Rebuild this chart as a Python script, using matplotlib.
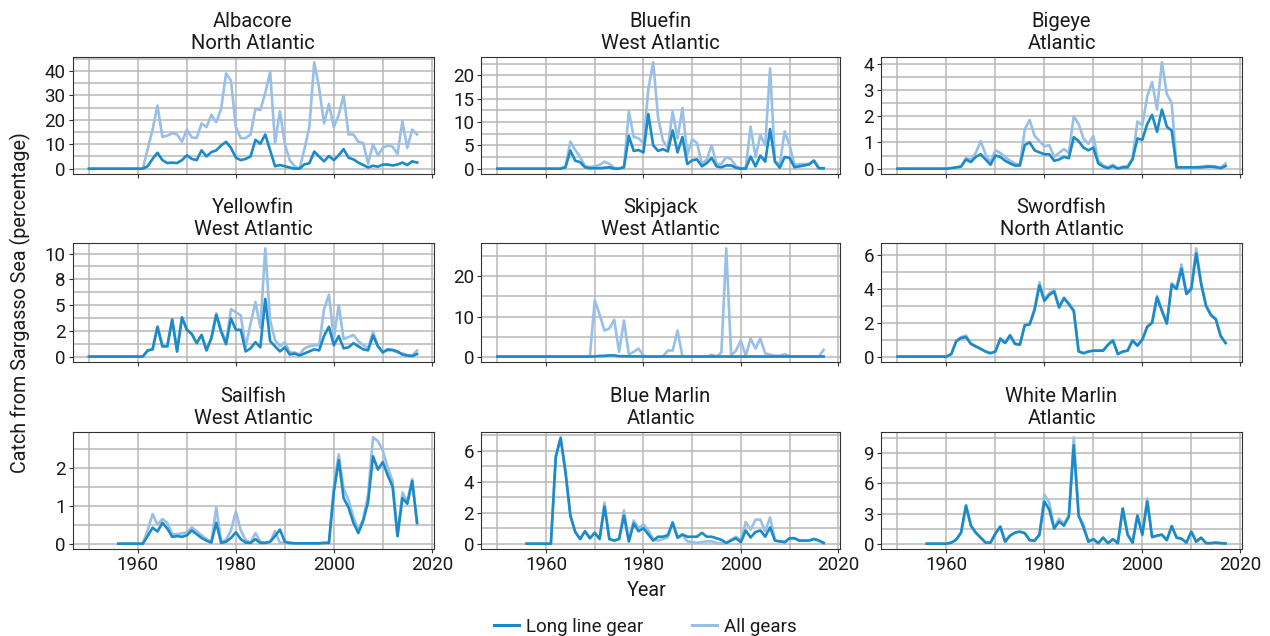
import matplotlib
matplotlib.use("Agg")
import matplotlib.pyplot as plt
import numpy as np
from matplotlib.ticker import MultipleLocator, FormatStrFormatter
from matplotlib.lines import Line2D

plt.rcParams['font.family'] = ['Roboto', 'DejaVu Sans']

# ---------------- data ----------------
years_a = list(range(1950, 2018))   # 68 years
years_b = list(range(1956, 2018))   # 62 years

titles = ["Albacore\nNorth Atlantic", "Bluefin\nWest Atlantic", "Bigeye\nAtlantic",
          "Yellowfin\nWest Atlantic", "Skipjack\nWest Atlantic", "Swordfish\nNorth Atlantic",
          "Sailfish\nWest Atlantic", "Blue Marlin\nAtlantic", "White Marlin\nAtlantic"]

albacore_long = [0, 0, 0, 0, 0, 0, 0, 0, 0, 0, 0, 0,
                 1, 4, 6.5, 3.5, 2.3, 2.5, 2.3, 3.5, 5.5, 4,
                 3.5, 7.5, 5, 6.8, 7.5, 9.5, 11, 8.5, 4.5, 3.5,
                 4, 5, 11.8, 10.2, 14, 7.5, 1, 1.5, 1, 0.5,
                 0, 0, 1.8, 2.2, 7, 5, 3, 5.2, 3.5, 5.5,
                 8, 4.5, 3.8, 2.5, 1.5, 0.5, 1.2, 0.8, 1.7, 1.7,
                 1.3, 1.7, 2.5, 1.5, 3, 2.5]
albacore_all = [0, 0, 0, 0, 0, 0, 0, 0, 0, 0, 0, 0,
                8, 16, 25.8, 13, 13.5, 14.5, 14, 11, 16, 12.8,
                12.5, 18.5, 17, 22, 19, 24.5, 39, 36, 17, 12.5,
                12.5, 14, 24.5, 24, 31, 39.5, 10.5, 23.5, 10, 3.5,
                1, 0, 8, 17, 43.5, 33, 18.5, 26.5, 17, 22,
                30, 14, 14, 11, 10.5, 2, 10, 5.5, 8.5, 9.5,
                9, 6, 19.5, 8.5, 16, 14]

bluefin_long = [0, 0, 0, 0, 0, 0, 0, 0, 0, 0, 0, 0, 0, 0,
                0.3, 3.9, 1.7, 1.4, 0.3, 0.1, 0.1, 0.1, 0.2, 0.3,
                0, 0, 0.3, 7, 3.8, 4, 3.5, 11.7, 5, 3.8,
                4.2, 3.7, 8.2, 3.5, 6.8, 1, 1.8, 2, 0.5, 1.2,
                2.3, 0.5, 0.3, 0.7, 0.7, 0.2, 0, 0, 2.6, 0.5,
                2.8, 1.5, 8.5, 1.5, 0.2, 2.5, 2.3, 0.3, 0.5, 0.7,
                0.9, 1.7, 0.1, 0.1]
bluefin_all = [0, 0, 0, 0, 0, 0, 0, 0, 0, 0, 0, 0, 0, 0,
               0.5, 5.8, 4, 2.5, 0.5, 0.4, 0.5, 0.8, 1.5, 1.0,
               0.2, 0, 0.5, 12.3, 6.8, 6.5, 5.5, 17, 22.8, 11,
               6, 4.5, 12.2, 6.5, 13, 3, 6.3, 5.5, 1, 2,
               5, 1, 1, 2.5, 2, 0.5, 0, 0.2, 9, 2.5,
               7.2, 5, 21.5, 1.5, 1, 8, 5, 0.8, 1, 1,
               1.0, 1.8, 0, 0]

bigeye_long = [0, 0, 0, 0, 0, 0, 0, 0, 0, 0, 0,
               0.02, 0.05, 0.08, 0.35, 0.25, 0.45, 0.55, 0.35, 0.15, 0.5,
               0.45, 0.3, 0.2, 0.12, 0.12, 0.9, 1.0, 0.7, 0.62, 0.55,
               0.55, 0.3, 0.35, 0.45, 0.4, 1.2, 1.05, 0.8, 0.7, 0.8,
               0.2, 0.08, 0.02, 0.1, 0.0, 0.05, 0.05, 0.35, 1.15, 1.1,
               1.7, 2.05, 1.4, 2.25, 1.6, 1.45, 0.05, 0.05, 0.05, 0.05,
               0.05, 0.05, 0.07, 0.08, 0.06, 0.02, 0.1]
bigeye_all = [0, 0, 0, 0, 0, 0, 0, 0, 0, 0, 0,
              0.02, 0.05, 0.08, 0.4, 0.35, 0.6, 1.05, 0.55, 0.25, 0.7,
              0.6, 0.45, 0.3, 0.2, 0.15, 1.5, 1.85, 1.25, 1.05, 0.85,
              0.9, 0.45, 0.6, 0.75, 0.6, 2.0, 1.7, 1.15, 0.95, 1.25,
              0.3, 0.12, 0.05, 0.15, 0.0, 0.08, 0.1, 0.4, 1.8, 1.65,
              2.75, 3.3, 2.25, 4.05, 2.85, 2.5, 0.05, 0.05, 0.05, 0.05,
              0.06, 0.08, 0.1, 0.1, 0.08, 0.03, 0.2]

yellowfin_long = [0, 0, 0, 0, 0, 0, 0, 0, 0, 0, 0, 0,
                  0.6, 0.7, 2.9, 1.0, 1.0, 3.6, 0.5, 3.8, 2.6, 2.2,
                  1.3, 2.1, 0.6, 1.8, 4.05, 2.4, 1.2, 3.7, 2.6, 2.6,
                  0.5, 0.8, 1.4, 0.9, 5.6, 1.5, 1.0, 0.5, 0.9, 0.2,
                  0.3, 0.1, 0.3, 0.5, 0.7, 0.6, 2.0, 2.9, 1.1, 2.0,
                  0.8, 0.9, 1.3, 1.0, 0.7, 0.6, 2.05, 1.0, 0.4, 0.7,
                  0.65, 0.5, 0.2, 0.1, 0.05, 0.25]
yellowfin_all = [0, 0, 0, 0, 0, 0, 0, 0, 0, 0, 0, 0,
                 0.6, 0.7, 2.9, 1.0, 1.0, 3.6, 0.5, 3.8, 2.6, 2.2,
                 1.3, 2.1, 0.6, 1.8, 4.2, 2.6, 1.4, 4.6, 4.3, 4.0,
                 0.9, 3.2, 5.3, 2.8, 10.5, 3.5, 1.6, 1.0, 1.4, 0.4,
                 0.4, 0.2, 0.8, 1.0, 1.1, 1.1, 4.6, 6.0, 1.8, 5.0,
                 1.7, 1.9, 2.1, 1.5, 1.1, 0.8, 2.4, 1.0, 0.5, 0.6,
                 0.6, 0.4, 0.3, 0.15, 0.1, 0.6]

skipjack_long = [0, 0, 0, 0, 0, 0, 0, 0, 0, 0, 0, 0, 0, 0, 0, 0, 0, 0, 0, 0,
                 0.05, 0.15, 0.2, 0.3, 0.3, 0.1, 0.1, 0.05, 0.05, 0.05,
                 0.03, 0.02, 0.02, 0.02, 0.02, 0.03, 0.03, 0.03, 0.02, 0.02,
                 0.02, 0.02, 0.02, 0.02, 0.02, 0.02, 0.03, 0.03, 0.02, 0.02,
                 0.03, 0.02, 0.03, 0.02, 0.03, 0.02, 0.02, 0.02, 0.02, 0.02,
                 0.02, 0.02, 0.02, 0.02, 0.02, 0.02, 0.02, 0.05]
skipjack_all = [0, 0, 0, 0, 0, 0, 0, 0, 0, 0, 0, 0, 0, 0, 0, 0, 0, 0, 0, 0,
                14, 10.5, 6.5, 7, 9.2, 1.2, 9, 0.5, 1.2, 2,
                0.2, 0, 0, 0, 0, 1.5, 1.5, 6.5, 0, 0,
                0, 0, 0, 0, 0.5, 0, 1.0, 27, 0.3, 1.5,
                4, 0.2, 4.5, 2.0, 4.5, 0.8, 0.5, 0.2, 0.2, 0.6,
                0.1, 0, 0, 0, 0, 0, 0, 1.7]

swordfish_long = [0, 0, 0, 0, 0, 0, 0, 0, 0, 0, 0,
                  0.15, 0.9, 1.1, 1.15, 0.75, 0.6, 0.45, 0.3, 0.2, 0.3,
                  1.05, 0.8, 1.25, 0.75, 0.7, 1.85, 1.9, 2.75, 4.2, 3.3,
                  3.65, 3.85, 2.9, 3.45, 3.1, 2.7, 0.3, 0.2, 0.3, 0.35,
                  0.35, 0.35, 0.7, 0.95, 0.15, 0.3, 0.35, 0.95, 0.65, 1.0,
                  1.75, 2.0, 3.5, 2.7, 1.95, 4.25, 4.0, 5.2, 3.7, 4.0,
                  6.1, 4.3, 3.0, 2.45, 2.2, 1.2, 0.8]
swordfish_all = [0, 0, 0, 0, 0, 0, 0, 0, 0, 0, 0,
                 0.15, 0.95, 1.15, 1.25, 0.78, 0.62, 0.47, 0.3, 0.2, 0.3,
                 1.08, 0.82, 1.28, 0.77, 0.72, 1.9, 1.95, 2.85, 4.4, 3.4,
                 3.75, 3.95, 2.95, 3.5, 3.15, 2.75, 0.32, 0.2, 0.3, 0.36,
                 0.36, 0.36, 0.72, 0.98, 0.15, 0.3, 0.36, 0.97, 0.66, 1.02,
                 1.8, 2.05, 3.6, 2.75, 2.0, 4.35, 4.1, 5.45, 3.8, 4.1,
                 6.4, 4.4, 3.05, 2.5, 2.25, 1.25, 0.82]

sailfish_long = [0, 0, 0, 0, 0, 0,
                 0.2, 0.42, 0.32, 0.55, 0.4, 0.18, 0.2, 0.18, 0.22, 0.35,
                 0.25, 0.15, 0.08, 0.03, 0.55, 0.02, 0.05, 0.15, 0.3, 0.12,
                 0.03, 0.02, 0.12, 0.02, 0.02, 0.05, 0.2, 0.37, 0.05, 0.02,
                 0.01, 0.01, 0.01, 0.01, 0.01, 0.01, 0.02, 0.02, 1.35, 2.2,
                 1.2, 0.95, 0.55, 0.28, 0.6, 1.1, 2.3, 1.95, 2.15, 1.8,
                 1.5, 0.2, 1.2, 1.05, 1.65, 0.55]
sailfish_all = [0, 0, 0, 0, 0, 0,
                0.35, 0.78, 0.5, 0.65, 0.55, 0.25, 0.25, 0.27, 0.3, 0.43,
                0.33, 0.22, 0.12, 0.05, 0.95, 0.05, 0.1, 0.35, 0.85, 0.35,
                0.1, 0.02, 0.28, 0.05, 0.02, 0.05, 0.33, 0.02, 0.03, 0.02,
                0.01, 0.01, 0.01, 0.01, 0.01, 0.01, 0.02, 0.02, 1.5, 2.35,
                1.45, 1.15, 0.7, 0.35, 0.65, 1.3, 2.8, 2.7, 2.45, 2.0,
                1.65, 0.2, 1.35, 1.1, 1.7, 0.5]

bluemarlin_long = [0, 0, 0, 0, 0, 0,
                   5.6, 6.8, 4.6, 1.8, 0.75, 0.3, 0.8, 0.35, 0.7, 0.3,
                   2.4, 0.3, 0.2, 0.3, 1.8, 0.15, 1.3, 0.8, 1.0, 0.6,
                   0.2, 0.45, 0.45, 0.55, 1.35, 0.4, 0.6, 0.45, 0.45, 0.45,
                   0.7, 0.45, 0.45, 0.35, 0.25, 0.05, 0.2, 0.35, 0.1, 0.85,
                   0.4, 0.75, 0.85, 0.45, 1.05, 0.2, 0.15, 0.1, 0.35, 0.35,
                   0.2, 0.2, 0.2, 0.3, 0.2, 0.05]
bluemarlin_all = [0, 0, 0, 0, 0, 0,
                  5.6, 6.85, 4.6, 1.8, 0.75, 0.3, 0.8, 0.35, 0.7, 0.3,
                  2.65, 0.3, 0.2, 0.3, 2.15, 0.15, 1.5, 1.0, 1.25, 0.85,
                  0.3, 0.2, 0.3, 0.4, 1.4, 0.35, 0.55, 0.15, 0.1, 0.05,
                  0.1, 0.15, 0.15, 0.05, 0.0, 0.05, 0.25, 0.45, 0.15, 1.4,
                  0.9, 1.55, 1.55, 0.8, 1.7, 0.2, 0.15, 0.1, 0.35, 0.35,
                  0.2, 0.2, 0.2, 0.3, 0.2, 0.05]

whitemarlin_long = [0, 0, 0, 0, 0,
                    0.1, 0.4, 1.1, 3.8, 1.8, 1.1, 0.6, 0.1, 0.1, 1.0,
                    1.7, 0.2, 0.8, 1.1, 1.2, 1.05, 0.35, 0.3, 0.9, 4.2,
                    3.4, 1.5, 2.2, 1.8, 2.7, 9.8, 2.8, 1.6, 0.2, 0.45,
                    0.05, 0.6, 0.05, 0.45, 0.05, 3.5, 0.9, 0.1, 2.8, 0.9,
                    4.2, 0.65, 0.8, 0.9, 0.35, 1.75, 0.6, 0.5, 0.1, 1.2,
                    0.2, 0.6, 0.05, 0.05, 0.1, 0.05, 0.02]
whitemarlin_all = [0, 0, 0, 0, 0,
                   0.1, 0.4, 1.1, 3.8, 1.8, 1.1, 0.6, 0.1, 0.1, 1.0,
                   1.7, 0.2, 0.8, 1.1, 1.2, 1.05, 0.35, 0.3, 0.9, 4.9,
                   4.1, 1.6, 2.5, 2.0, 2.8, 10.6, 2.8, 1.9, 0.2, 0.45,
                   0.05, 0.6, 0.05, 0.45, 0.05, 3.5, 0.9, 0.1, 2.8, 0.9,
                   4.5, 0.65, 0.8, 0.9, 0.35, 1.75, 0.6, 0.5, 0.1, 1.2,
                   0.2, 0.6, 0.05, 0.05, 0.1, 0.05, 0.02]

panel_years = [years_a] * 6 + [years_b] * 3
panel_long = [albacore_long, bluefin_long, bigeye_long, yellowfin_long, skipjack_long,
              swordfish_long, sailfish_long, bluemarlin_long, whitemarlin_long]
panel_all = [albacore_all, bluefin_all, bigeye_all, yellowfin_all, skipjack_all,
             swordfish_all, sailfish_all, bluemarlin_all, whitemarlin_all]
y_steps = [10, 5, 1, 2.5, 10, 2, 1, 2, 3]

x_ticks = [1960, 1980, 2000, 2020]
series_labels = ["Long line gear", "All gears"]

# ---------------- styling ----------------
W, H = 1270, 636
C_LONG = "#1a8ac8"
C_ALL = "#98bfe7"
GRID = "#b8b8b8"
TXT = "#1a1a1a"
FS = 13.5

fig = plt.figure(figsize=(W / 100, H / 100), dpi=100)

col_left = [72.5, 481, 881]
col_w = [361, 359, 361]
row_top = [57, 243, 432]
row_h = [117, 119, 117]

xmin, xmax = 1950, 2017
xpad = (xmax - xmin) * 0.05

for i in range(9):
    r, c = divmod(i, 3)
    ax = fig.add_axes([col_left[c] / W, 1 - (row_top[r] + row_h[r]) / H,
                       col_w[c] / W, row_h[r] / H])
    yrs = panel_years[i]
    ax.plot(yrs, panel_all[i], color=C_ALL, lw=1.9, solid_joinstyle='round', zorder=3)
    ax.plot(yrs, panel_long[i], color=C_LONG, lw=1.9, solid_joinstyle='round', zorder=4)

    ymax = max(max(panel_all[i]), max(panel_long[i]))
    ypad = ymax * 0.05
    ax.set_ylim(-ypad, ymax + ypad)
    ax.set_xlim(xmin - xpad, xmax + xpad)

    step = y_steps[i]
    ax.yaxis.set_major_locator(MultipleLocator(step))
    ax.yaxis.set_minor_locator(MultipleLocator(step / 2))
    ax.yaxis.set_major_formatter(FormatStrFormatter('%.0f'))
    ax.set_xticks(x_ticks)
    ax.xaxis.set_minor_locator(MultipleLocator(10))

    ax.grid(True, which='major', color=GRID, lw=1.1, zorder=0)
    ax.grid(True, which='minor', color=GRID, lw=1.1, zorder=0)
    ax.set_axisbelow(True)
    ax.tick_params(axis='both', which='major', length=3, width=0.8, color="#333333",
                   labelsize=FS, labelcolor=TXT, pad=2)
    ax.tick_params(axis='both', which='minor', length=0)
    for s in ax.spines.values():
        s.set_color("#333333")
        s.set_linewidth(0.8)
    if r < 2:
        ax.tick_params(axis='x', labelbottom=False)
    ax.set_title(titles[i], fontsize=14.5, color=TXT, pad=5.5, linespacing=1.2)

fig.text(20 / W, 1 - 303 / H, "Catch from Sargasso Sea (percentage)", rotation=90,
         ha='center', va='center', fontsize=14.2, color=TXT)
fig.text(647 / W, 1 - 590 / H, "Year", ha='center', va='center', fontsize=14.2, color=TXT)

handles = [Line2D([0], [0], color=C_LONG, lw=2.2), Line2D([0], [0], color=C_ALL, lw=2.2)]
fig.legend(handles, series_labels, loc='center', bbox_to_anchor=(645 / W, 1 - 627 / H),
           ncol=2, frameon=False, fontsize=FS, handlelength=1.33, columnspacing=2.6,
           handletextpad=0.37, borderaxespad=0, labelcolor=TXT)

fig.savefig("out.png", dpi=100)
